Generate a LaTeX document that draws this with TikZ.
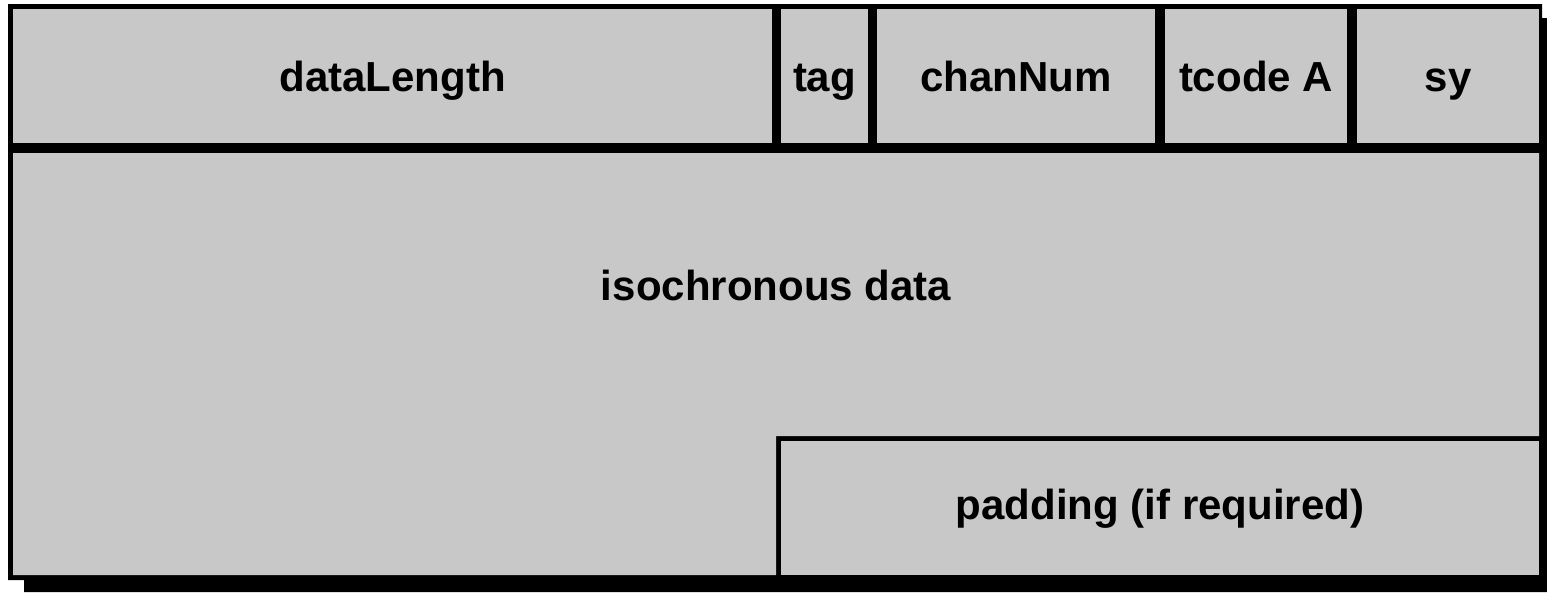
\documentclass[tikz,border=0pt]{standalone}
\usepackage{fontspec}
\setmainfont{Liberation Sans}
\definecolor{cellgray}{RGB}{200,200,200}
\begin{document}
\begin{tikzpicture}[x=1pt,y=-1pt,
  cell/.style={fill=cellgray},
  label/.style={anchor=base,inner sep=0pt,font=\fontsize{42}{50}\selectfont\bfseries}]
\useasboundingbox (0,0) rectangle (1547,592);
% black frame, separators and drop shadow
\fill[black] (8,4) -- (1542,4) -- (1542,18) -- (1547,18) -- (1547,592)
  -- (24,592) -- (24,580) -- (8,580) -- cycle;
% header fields
\fill[cell] (13,9) rectangle (772,143);
\fill[cell] (781,9) rectangle (868,143);
\fill[cell] (877,9) rectangle (1155,143);
\fill[cell] (1165,9) rectangle (1347,143);
\fill[cell] (1357,9) rectangle (1539,143);
% payload area
\fill[cell] (13,153) -- (1539,153) -- (1539,436) -- (776,436) -- (776,575) -- (13,575) -- cycle;
\fill[cell] (781,441) rectangle (1539,575);
% field names
\node[label] (len)  at (392.5,91) {dataLength};
\node[label] (tag)  at (824.5,91) {tag};
\node[label] (chan) at (1016,91) {chanNum};
\node[label] (tc)   at (1256,91) {tcode A};
\node[label] (sy)   at (1448,91) {sy};
\node[label] (iso)  at (776,300) {isochronous data};
\node[label] (pad)  at (1160,519) {padding (if required)};
\end{tikzpicture}
\end{document}
